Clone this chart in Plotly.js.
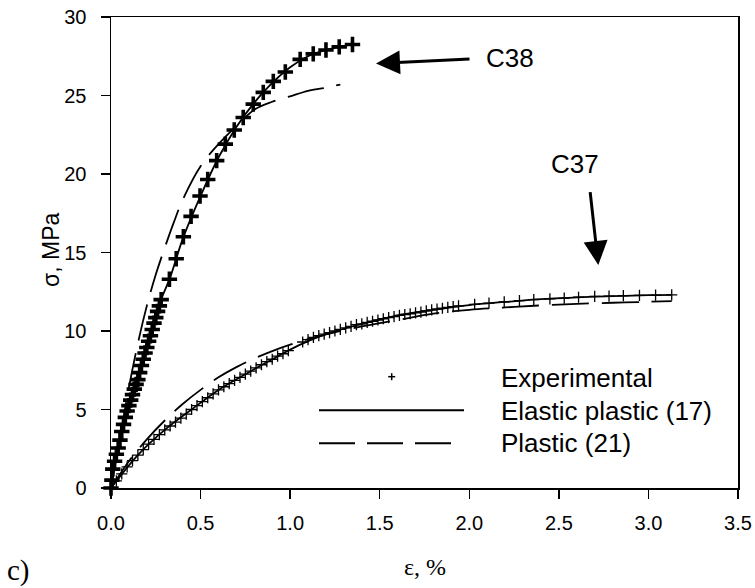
<!DOCTYPE html>
<html><head><meta charset="utf-8">
<script src="https://cdn.plot.ly/plotly-3.0.1.min.js"></script>
<style>html,body{margin:0;padding:0;background:#fff}</style>
</head><body><div id="chart" style="width:755px;height:588px"></div>
<script>
// ---- data ----
const c38ExpX = [0,0.005,0.01,0.02,0.03,0.04,0.05,0.06,0.07,0.08,0.09,0.10,0.11,0.12,0.13,0.14,0.15,0.16,0.17,0.18,0.19,0.20,0.21,0.22,0.23,0.24,0.25,0.26,0.27,0.28,
  0.326,0.364,0.404,0.447,0.497,0.540,0.590,0.638,0.688,0.738,0.794,0.850,0.906,0.973,1.056,1.129,1.200,1.274,1.348];
const c38ExpY = [0,0.5,1.2,1.7,2.15,2.55,3.05,3.6,4.05,4.5,4.9,5.25,5.6,5.95,6.3,6.6,6.9,7.35,7.8,8.2,8.6,8.95,9.35,9.7,10.1,10.5,10.85,11.25,11.6,12.0,
  13.3,14.6,16.0,17.3,18.6,19.65,20.85,21.9,22.8,23.6,24.45,25.2,25.9,26.5,27.3,27.65,27.9,28.1,28.25];
const c38ElasticX = [0,0.03,0.066,0.1,0.15,0.2,0.28,0.33,0.4,0.5,0.6,0.7,0.8,0.9,1.0,1.1,1.2,1.3,1.35];
const c38ElasticY = [0,2.1,3.9,5.25,6.9,8.95,12.0,13.4,15.85,18.6,21.05,23.0,24.55,25.8,26.8,27.5,27.9,28.15,28.3];
const c38PlasticX = [0,0.05,0.1,0.15,0.2,0.25,0.3,0.35,0.4,0.5,0.6,0.7,0.8,0.9,1.0,1.1,1.2,1.28];
const c38PlasticY = [0,3.2,6.4,9.2,11.6,13.6,15.3,16.9,18.35,20.5,21.9,23.05,24.1,24.6,24.95,25.3,25.5,25.7];

const c37ExpX = [0,0.03,0.06,0.09,0.12,0.15,0.18,0.21,0.24,0.27,0.30,0.33,0.36,0.39,0.42,0.45,0.48,0.51,0.54,0.57,0.60,0.63,0.66,0.69,0.72,0.75,0.78,0.81,0.84,0.87,0.90,0.93,0.96,0.99,
  1.07,1.10,1.13,1.16,1.19,1.22,1.25,1.28,1.31,1.34,1.37,1.40,1.43,1.46,1.49,1.52,1.55,1.58,1.61,1.64,1.67,1.70,1.73,1.76,1.79,1.82,1.85,1.88,1.91,1.94,
  2.03,2.11,2.195,2.28,2.36,2.45,2.53,2.61,2.70,2.78,2.86,2.95,3.04,3.13];
const c37ExpY = [0,0.45,0.9,1.35,1.75,2.1,2.45,2.8,3.1,3.4,3.7,3.95,4.2,4.45,4.7,5.0,5.25,5.5,5.75,6.0,6.25,6.45,6.65,6.85,7.05,7.25,7.45,7.65,7.85,8.05,8.2,8.4,8.55,8.75,
  9.3,9.45,9.6,9.7,9.8,9.9,10.0,10.1,10.2,10.3,10.4,10.45,10.55,10.62,10.7,10.78,10.85,10.92,11.0,11.05,11.1,11.15,11.2,11.28,11.35,11.4,11.45,11.5,11.55,11.6,
  11.7,11.78,11.85,11.93,12.0,12.05,12.1,12.15,12.2,12.22,12.25,12.27,12.29,12.3];
const c37ElasticX = [0,0.15,0.3,0.45,0.6,0.75,0.9,1.05,1.2,1.4,1.6,1.8,2.0,2.2,2.4,2.6,2.8,3.0,3.13];
const c37ElasticY = [0,2.1,3.7,5.0,6.25,7.25,8.2,9.1,9.8,10.45,11.0,11.35,11.65,11.85,12.03,12.14,12.22,12.28,12.3];
const c37PlasticX = [0,0.1,0.2,0.3,0.4,0.5,0.6,0.7,0.8,0.9,1.0,1.1,1.2,1.4,1.6,1.8,2.0,2.2,2.4,2.6,2.8,3.0,3.13];
const c37PlasticY = [0,1.7,3.1,4.3,5.35,6.25,7.05,7.7,8.25,8.72,9.13,9.48,9.78,10.3,10.7,11.1,11.35,11.5,11.63,11.73,11.8,11.86,11.9];

const legendNames = ['Experimental','Elastic plastic (17)','Plastic (21)'];
const curveLabels = ['C38','C37'];
const xTitle = 'ε, %';
const yTitle = 'σ, MPa';
const panelLabel = 'c)';

// ---- layout helpers ----
const W = 755, H = 588, M = {l:111, r:17, t:17, b:100};
const PW = W - M.l - M.r, PH = H - M.t - M.b;
const px = v => (v - M.l) / PW;
const py = v => (H - M.b - v) / PH;

const lineW = 1.8, dashPat = '37px,13px';
const traces = [
  {x:c38ElasticX, y:c38ElasticY, mode:'lines', line:{color:'#000', width:lineW, shape:'spline'}},
  {x:c38PlasticX, y:c38PlasticY, mode:'lines', line:{color:'#000', width:lineW, dash:dashPat, shape:'spline'}},
  {x:c37ElasticX, y:c37ElasticY, mode:'lines', line:{color:'#000', width:lineW, shape:'spline'}},
  {x:c37PlasticX, y:c37PlasticY, mode:'lines', line:{color:'#000', width:lineW, dash:dashPat, shape:'spline'}},
  {x:c38ExpX, y:c38ExpY, mode:'markers', cliponaxis:false,
   marker:{symbol:'cross-thin', size:11, color:'#000', line:{color:'#000', width:3.6}}},
  {x:c37ExpX, y:c37ExpY, mode:'markers', cliponaxis:false,
   marker:{symbol:'cross-thin', size:8, color:'#000', line:{color:'#000', width:1.3}}}
];

const axisCommon = {
  showline:true, mirror:true, linecolor:'#000', linewidth:1.5,
  ticks:'outside', ticklen:9, tickwidth:1.5, tickcolor:'#000',
  showgrid:false, zeroline:false, automargin:false,
  tickfont:{family:'Liberation Sans, Arial, sans-serif', size:20, color:'#000'}
};

const legendFont = {family:'Liberation Sans, Arial, sans-serif', size:26, color:'#000'};
const shapes = [
  {type:'line', xref:'paper', yref:'paper', x0:px(319), x1:px(464), y0:py(410.3), y1:py(410.3), line:{color:'#000', width:2}},
  {type:'line', xref:'paper', yref:'paper', x0:px(319), x1:px(451), y0:py(443.3), y1:py(443.3), line:{color:'#000', width:2, dash:'36px,12px'}},
  {type:'line', xref:'paper', yref:'paper', x0:px(388.2), x1:px(395.2), y0:py(376.7), y1:py(376.7), line:{color:'#000', width:1.5}},
  {type:'line', xref:'paper', yref:'paper', x0:px(391.7), x1:px(391.7), y0:py(373.2), y1:py(380.2), line:{color:'#000', width:1.5}}
];

const annotations = [
  {xref:'paper', yref:'paper', x:px(499), y:py(378), xanchor:'left', yanchor:'middle', text:legendNames[0], showarrow:false, font:legendFont},
  {xref:'paper', yref:'paper', x:px(499), y:py(410.5), xanchor:'left', yanchor:'middle', text:legendNames[1], showarrow:false, font:legendFont},
  {xref:'paper', yref:'paper', x:px(499), y:py(443), xanchor:'left', yanchor:'middle', text:legendNames[2], showarrow:false, font:legendFont},
  {xref:'paper', yref:'paper', x:px(510), y:py(57.7), xanchor:'center', yanchor:'middle', text:curveLabels[0], showarrow:false,
   font:{family:'Liberation Sans, Arial, sans-serif', size:26, color:'#000'}},
  {xref:'paper', yref:'paper', x:px(575), y:py(164), xanchor:'center', yanchor:'middle', text:curveLabels[1], showarrow:false,
   font:{family:'Liberation Sans, Arial, sans-serif', size:26, color:'#000'}},
  {xref:'paper', yref:'paper', x:px(376), y:py(63.5), text:'', showarrow:true, arrowhead:2, arrowsize:1.6, arrowwidth:3,
   arrowcolor:'#000', ax:95, ay:-4.5, standoff:0},
  {xref:'paper', yref:'paper', x:px(598.3), y:py(265), text:'', showarrow:true, arrowhead:2, arrowsize:1.6, arrowwidth:3,
   arrowcolor:'#000', ax:-8.3, ay:-74.3, standoff:0},
  {xref:'paper', yref:'paper', x:px(5), y:py(570), xanchor:'left', yanchor:'middle', text:panelLabel, showarrow:false,
   font:{family:'Liberation Serif, Times New Roman, serif', size:29, color:'#000'}},
  {xref:'paper', yref:'paper', x:px(425), y:py(567), xanchor:'center', yanchor:'middle', text:xTitle, showarrow:false,
   font:{family:'Liberation Serif, Times New Roman, serif', size:24, color:'#000'}},
  {xref:'paper', yref:'paper', x:px(51), y:py(250), xanchor:'center', yanchor:'middle', text:yTitle, textangle:-90, showarrow:false,
   font:{family:'Liberation Sans, Arial, sans-serif', size:23, color:'#000'}}
];

const layout = {
  width:W, height:H, margin:M, showlegend:false,
  paper_bgcolor:'#fff', plot_bgcolor:'#fff',
  xaxis:Object.assign({}, axisCommon, {range:[0,3.5], dtick:0.5, tick0:0, tickformat:'.1f', ticklabelstandoff:7}),
  yaxis:Object.assign({}, axisCommon, {range:[0,30], dtick:5, tick0:0, ticklabelstandoff:10}),
  shapes:shapes, annotations:annotations
};

Plotly.newPlot('chart', traces, layout, {displayModeBar:false, staticPlot:true});
</script></body></html>
